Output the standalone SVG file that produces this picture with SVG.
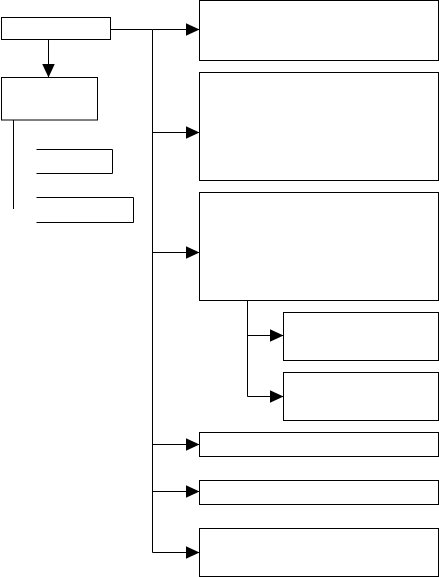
<svg xmlns="http://www.w3.org/2000/svg" width="439" height="577" viewBox="0 0 439 577">
<style>
.box{fill:#fff;stroke:#000;stroke-width:1}
.ln{fill:none;stroke:#000;stroke-width:1}
.ar{fill:none;stroke:#000;stroke-width:1;marker-end:url(#ah)}
</style>
<defs>
<marker id="ah" viewBox="0 0 14 13" refX="14" refY="6.5" markerWidth="14" markerHeight="13" markerUnits="userSpaceOnUse" orient="auto">
<path d="M0,0 L14,6.5 L0,13 z" fill="#000"/>
</marker>
</defs>
<rect width="439" height="577" fill="#fff"/>
<g id="connectors">
<path class="ln" d="M110.5,29.5 H152.5 V552.5"/>
<path class="ar" d="M152.5,29.5 H199.5"/>
<path class="ar" d="M152.5,132.5 H199.5"/>
<path class="ar" d="M152.5,252.5 H199.5"/>
<path class="ar" d="M152.5,444.5 H199.5"/>
<path class="ar" d="M152.5,491.5 H199.5"/>
<path class="ar" d="M152.5,552.5 H199.5"/>
<path class="ar" d="M48.5,39.5 V77.5"/>
<path class="ln" d="M13.5,120 V209"/>
<path class="ln" d="M247.5,300.5 V396.5"/>
<path class="ar" d="M247.5,335.5 H283.5"/>
<path class="ar" d="M247.5,396.5 H283.5"/>
</g>
<g id="n_top"><rect class="box" x="1.5" y="17.5" width="109" height="22"/></g>
<g id="n_left"><rect class="box" x="1.5" y="77.5" width="96" height="42.5"/></g>
<g id="n_br1"><path class="ln" d="M36.5,149.5 H112.5 V173.5 H36.5"/></g>
<g id="n_br2"><path class="ln" d="M36.5,197.5 H133.5 V222.5 H36.5"/></g>
<g id="n_r1"><rect class="box" x="199.5" y="0.5" width="239" height="60"/></g>
<g id="n_r2"><rect class="box" x="199.5" y="72.5" width="239" height="108"/></g>
<g id="n_r3"><rect class="box" x="199.5" y="192.5" width="239" height="108"/></g>
<g id="n_s1"><rect class="box" x="283.5" y="312.5" width="155" height="48"/></g>
<g id="n_s2"><rect class="box" x="283.5" y="372.5" width="155" height="48"/></g>
<g id="n_r4"><rect class="box" x="199.5" y="432.5" width="239" height="24"/></g>
<g id="n_r5"><rect class="box" x="199.5" y="480.5" width="239" height="24"/></g>
<g id="n_r6"><rect class="box" x="199.5" y="528.5" width="239" height="48"/></g>
</svg>
